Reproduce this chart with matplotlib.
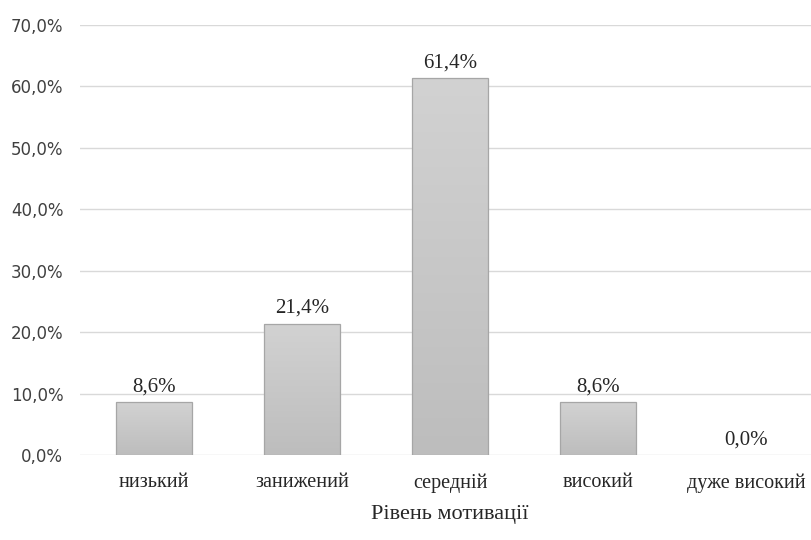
import numpy as np
import matplotlib
matplotlib.use("Agg")
import matplotlib.pyplot as plt
from matplotlib.ticker import FuncFormatter

categories = ["низький", "занижений", "середній", "високий", "дуже високий"]
values = [8.6, 21.4, 61.4, 8.6, 0.0]
y_ticks = [0, 10, 20, 30, 40, 50, 60, 70]
x_title = "Рівень мотивації"

serif = ["Liberation Serif", "DejaVu Serif"]
sans = ["DejaVu Sans"]

fig = plt.figure(figsize=(8.11, 5.40), dpi=100)
ax = fig.add_axes([80 / 811, (540 - 455) / 540, 740 / 811, 430 / 540])

x = np.arange(len(categories))
bars = ax.bar(x, values, width=0.51, color="none", edgecolor="#a6a6a6",
              linewidth=0.9, zorder=3)

# vertical grey gradient inside each bar
grad = np.linspace(0, 1, 256).reshape(-1, 1)
cmap = matplotlib.colors.LinearSegmentedColormap.from_list(
    "g", ["#bdbdbd", "#d2d2d2"])
for b in bars:
    h = b.get_height()
    if h <= 0:
        b.set_edgecolor("none")
        continue
    x0 = b.get_x()
    w = b.get_width()
    im = ax.imshow(grad, cmap=cmap, aspect="auto", origin="lower",
                   extent=[x0, x0 + w, 0, h], zorder=2)
    im.set_clip_path(b)

for xi, v in zip(x, values):
    ax.annotate(f"{v:.1f}%".replace(".", ","), (xi, v), xytext=(0, 4),
                textcoords="offset points", ha="center", va="bottom",
                fontsize=15, family=serif, color="#262626")

ax.set_xlim(-0.5, len(categories) - 0.5)
ax.set_ylim(0, 70)
ax.set_yticks(y_ticks)
ax.yaxis.set_major_formatter(FuncFormatter(lambda v, p: f"{v:.1f}%".replace(".", ",")))
ax.set_xticks(x)
ax.set_xticklabels(categories, family=serif, fontsize=14.5, color="#262626")
for t in ax.get_yticklabels():
    t.set_family(sans)
    t.set_fontsize(12)
    t.set_color("#404040")
ax.tick_params(axis="both", length=0)
ax.tick_params(axis="y", pad=12)
ax.tick_params(axis="x", pad=13)

ax.grid(axis="y", color="#d9d9d9", linewidth=1.0, zorder=0)
ax.set_axisbelow(True)
for s in ax.spines.values():
    s.set_visible(False)

ax.set_xlabel(x_title, family=serif, fontsize=16, color="#262626", labelpad=9)

fig.savefig("out.png", dpi=100)
